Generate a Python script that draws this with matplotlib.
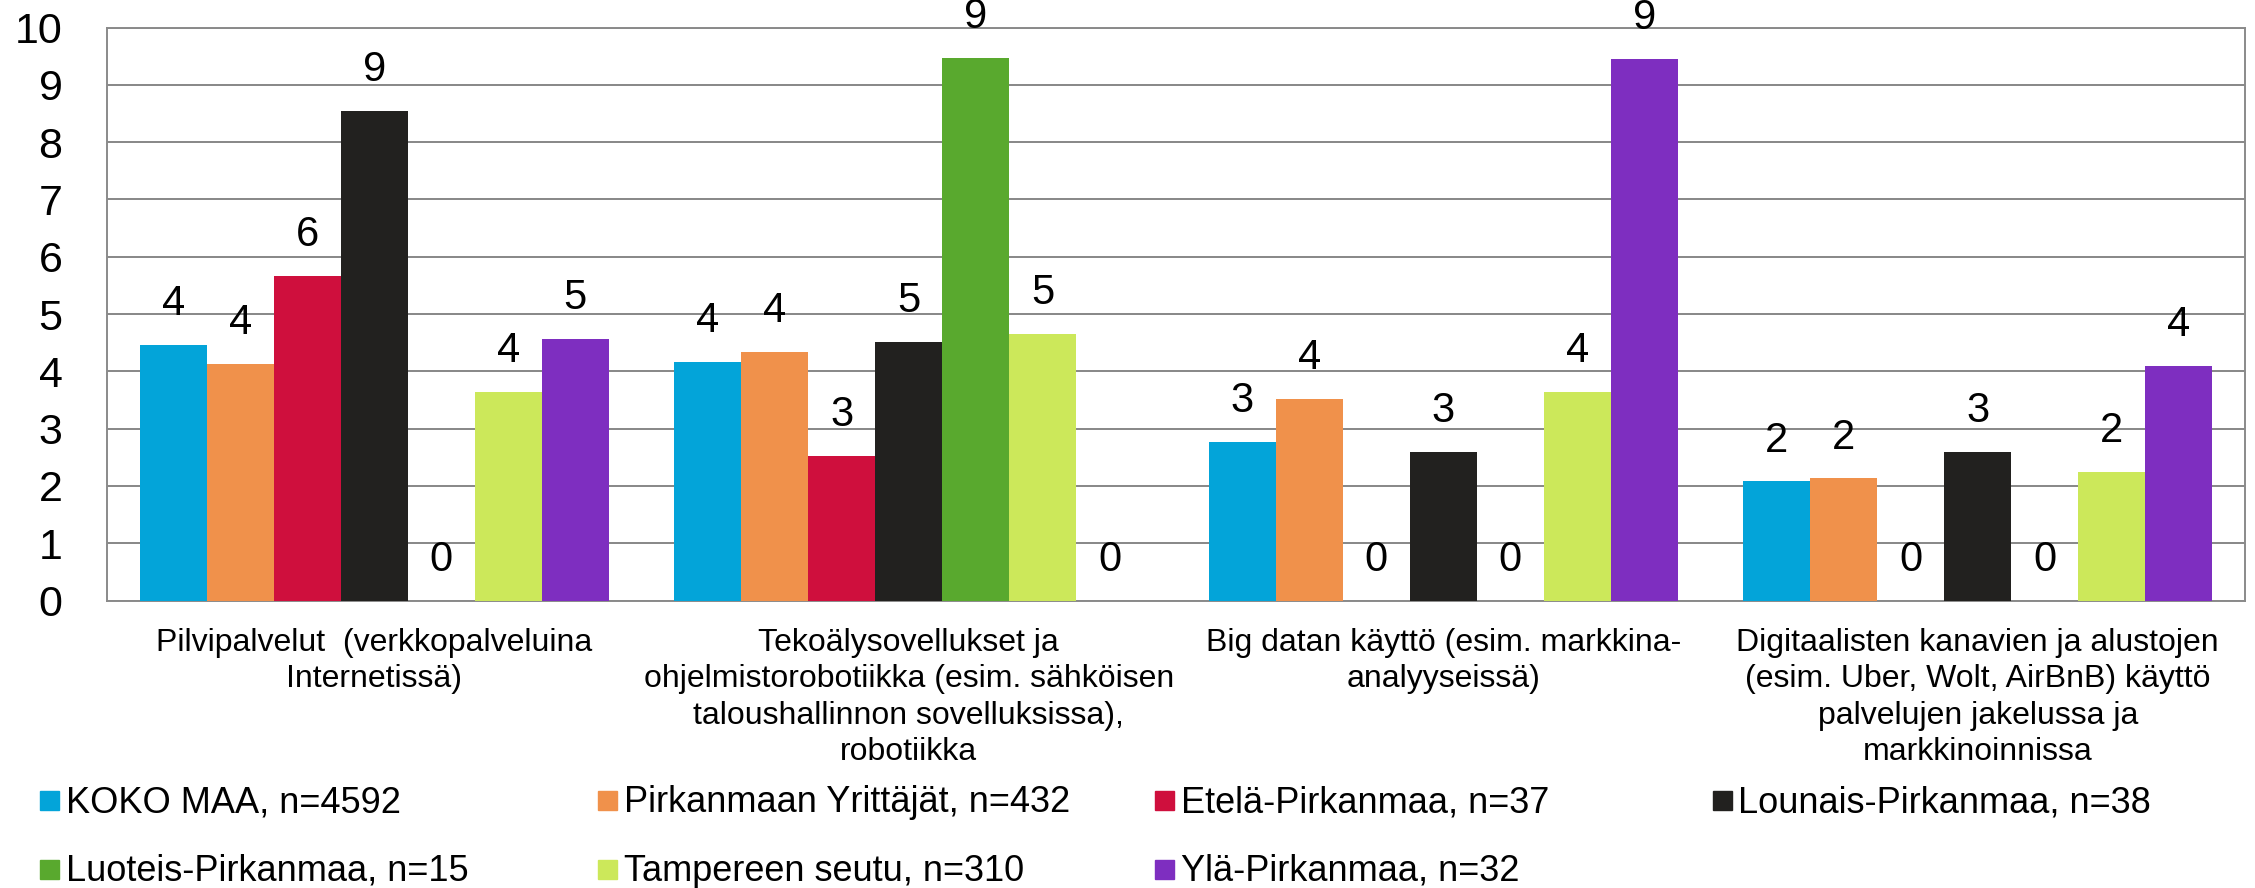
import matplotlib
matplotlib.use('Agg')
import matplotlib.pyplot as plt
from matplotlib.patches import Rectangle
import numpy as np

plt.rcParams['font.family'] = ['Liberation Sans', 'DejaVu Sans']

# data
categories = ['Pilvipalvelut  (verkkopalveluina\nInternetissä)',
              'Tekoälysovellukset ja\nohjelmistorobotiikka (esim. sähköisen\ntaloushallinnon sovelluksissa),\nrobotiikka',
              'Big datan käyttö (esim. markkina-\nanalyyseissä)',
              'Digitaalisten kanavien ja alustojen\n(esim. Uber, Wolt, AirBnB) käyttö\npalvelujen jakelussa ja\nmarkkinoinnissa']
series = ['KOKO MAA, n=4592', 'Pirkanmaan Yrittäjät, n=432', 'Etelä-Pirkanmaa, n=37',
          'Lounais-Pirkanmaa, n=38', 'Luoteis-Pirkanmaa, n=15', 'Tampereen seutu, n=310',
          'Ylä-Pirkanmaa, n=32']
koko_maa = [4.46, 4.17, 2.77, 2.08]
pirkanmaan_yrittajat = [4.13, 4.34, 3.52, 2.13]
etela = [5.67, 2.53, 0, 0]
lounais = [8.55, 4.51, 2.60, 2.60]
luoteis = [0, 9.47, 0, 0]
tampereen_seutu = [3.64, 4.66, 3.64, 2.25]
yla = [4.56, 0, 9.46, 4.10]
values = [koko_maa, pirkanmaan_yrittajat, etela, lounais, luoteis, tampereen_seutu, yla]
colors = ['#03a4d9', '#f0914b', '#cf0f3d', '#22211f', '#59a92e', '#cce85a', '#7e2ec0']

fig = plt.figure(figsize=(22.55, 8.88), dpi=100)
ax = fig.add_axes([107/2255, 1 - 600.5/888, (2245 - 107)/2255, (600.5 - 27.6)/888])

x = np.arange(len(categories))
w = 67/534.5
for i, (vals, c) in enumerate(zip(values, colors)):
    bars = ax.bar(x + (i - 3)*w, vals, w, color=c, zorder=3, linewidth=0)
    ax.bar_label(bars, fmt='{:.0f}', padding=15, fontsize=30)

ax.set_xlim(-0.5, len(categories) - 0.5)
ax.set_ylim(0, 10)
ax.set_yticks(range(0, 11))
ax.set_xticks(x)
ax.set_xticklabels(categories, fontsize=23, linespacing=1.27)
ax.tick_params(axis='x', length=0, pad=20)
ax.tick_params(axis='y', length=0, pad=32, labelsize=31)
ax.grid(axis='y', color='#878787', linewidth=1.4, zorder=0)
for s in ax.spines.values():
    s.set_color('#8a8a8a')
    s.set_linewidth(1.4)

# legend laid out in 4 columns like the original
for i, (name, c) in enumerate(zip(series, colors)):
    col, row = i % 4, i // 4
    lx = 40 + col*557.5
    ly = 800.5 + row*68.5
    fig.patches.append(Rectangle((lx/2255, 1 - (ly + 9.5)/888), 19/2255, 19/888,
                                 transform=fig.transFigure, color=c, figure=fig))
    fig.text((lx + 26)/2255, 1 - (ly + 11.5)/888, name, fontsize=26, va='baseline')

fig.savefig('out.png', dpi=100)
